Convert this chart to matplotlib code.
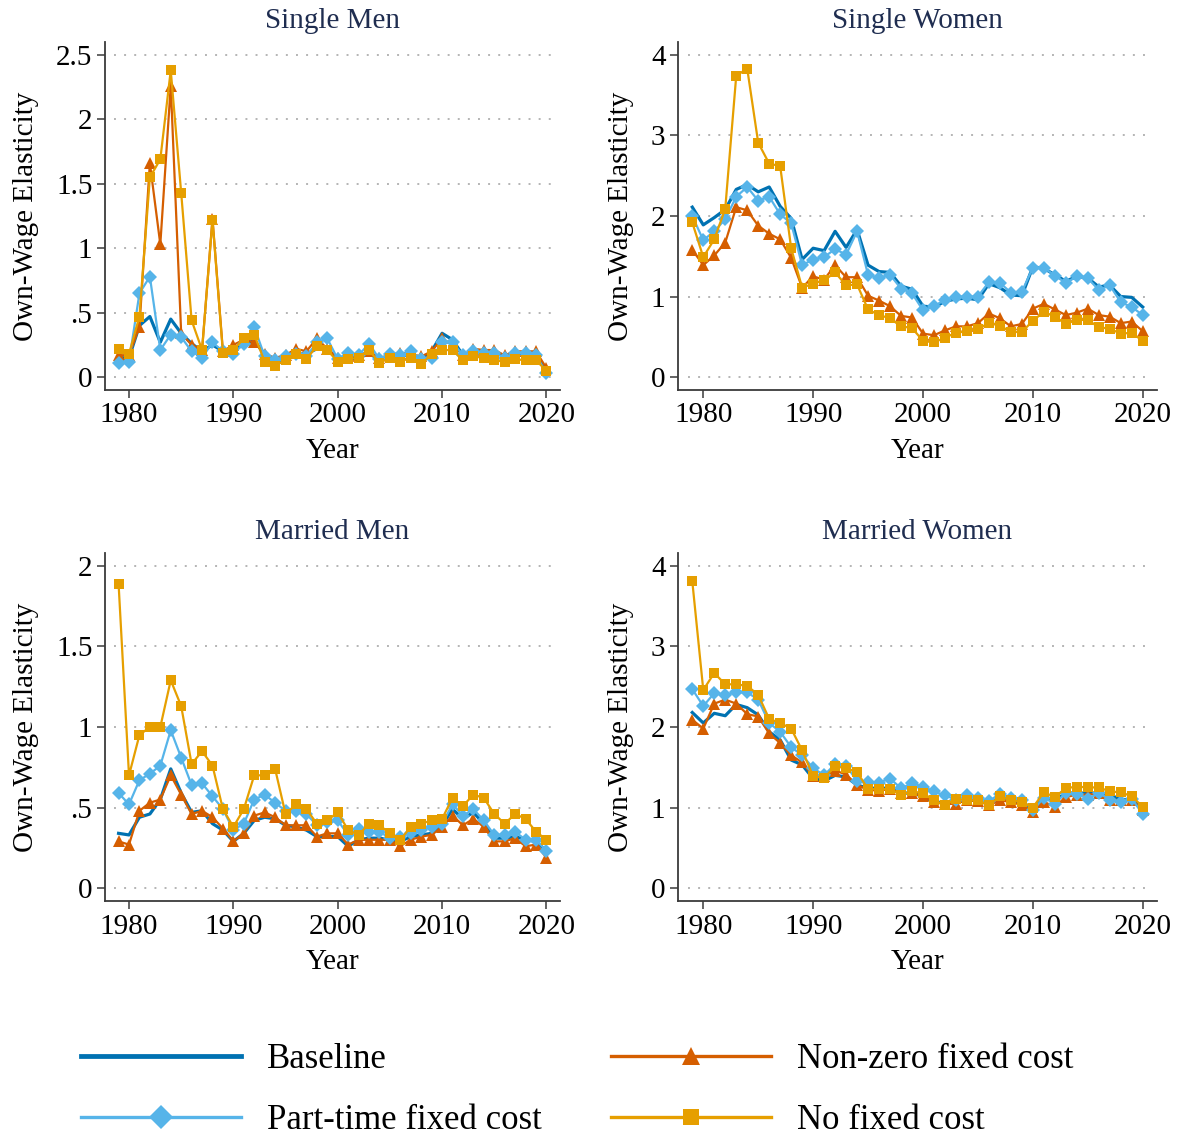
import matplotlib
matplotlib.use('Agg')
import matplotlib.pyplot as plt
from matplotlib.ticker import FuncFormatter

plt.rcParams['font.family'] = ['Liberation Serif', 'DejaVu Serif']

years: list[int] = list(range(1979, 2021))

seriesNames: list[str] = ['Baseline', 'Part-time fixed cost', 'Non-zero fixed cost', 'No fixed cost']

# Single men
smBaseline = [0.15, 0.15, 0.40, 0.47, 0.27, 0.45, 0.34, 0.26, 0.20, 0.25, 0.20, 0.20, 0.26, 0.28,
              0.18, 0.13, 0.13, 0.18, 0.18, 0.22, 0.22, 0.14, 0.14, 0.15, 0.18, 0.14, 0.16, 0.16,
              0.18, 0.14, 0.20, 0.34, 0.29, 0.17, 0.20, 0.20, 0.20, 0.16, 0.18, 0.18, 0.17, 0.05]
smPartTime = [0.11, 0.12, 0.65, 0.78, 0.21, 0.33, 0.31, 0.20, 0.15, 0.27, 0.20, 0.18, 0.26, 0.39,
              0.16, 0.13, 0.16, 0.18, 0.16, 0.27, 0.30, 0.14, 0.19, 0.17, 0.26, 0.14, 0.18, 0.17,
              0.20, 0.14, 0.15, 0.27, 0.27, 0.17, 0.20, 0.19, 0.19, 0.15, 0.19, 0.19, 0.17, 0.03]
smNonZero = [0.17, 0.17, 0.39, 1.66, 1.03, 2.26, 0.34, 0.25, 0.21, 1.23, 0.20, 0.25, 0.29, 0.27,
             0.18, 0.15, 0.17, 0.22, 0.20, 0.30, 0.22, 0.15, 0.16, 0.17, 0.20, 0.15, 0.17, 0.19,
             0.18, 0.16, 0.20, 0.30, 0.25, 0.17, 0.22, 0.21, 0.21, 0.17, 0.20, 0.20, 0.20, 0.07]
smNoFixed = [0.22, 0.18, 0.47, 1.55, 1.69, 2.38, 1.43, 0.44, 0.21, 1.22, 0.19, 0.21, 0.30, 0.33,
             0.12, 0.09, 0.13, 0.18, 0.14, 0.24, 0.21, 0.12, 0.14, 0.15, 0.21, 0.11, 0.15, 0.12,
             0.15, 0.10, 0.18, 0.21, 0.21, 0.13, 0.16, 0.15, 0.13, 0.12, 0.14, 0.13, 0.13, 0.05]

# Single women
swBaseline = [2.11, 1.89, 1.98, 2.08, 2.33, 2.39, 2.30, 2.36, 2.12, 1.97, 1.46, 1.60, 1.57, 1.81,
              1.61, 1.83, 1.39, 1.31, 1.30, 1.13, 1.09, 0.88, 0.87, 0.94, 0.97, 0.98, 0.96, 1.16,
              1.11, 1.02, 1.01, 1.37, 1.35, 1.27, 1.19, 1.25, 1.23, 1.12, 1.14, 1.00, 0.99, 0.87]
swPartTime = [2.00, 1.70, 1.81, 1.96, 2.24, 2.36, 2.19, 2.24, 2.02, 1.91, 1.39, 1.46, 1.49, 1.59,
              1.52, 1.81, 1.27, 1.23, 1.27, 1.10, 1.04, 0.83, 0.88, 0.96, 1.00, 1.00, 1.00, 1.18,
              1.17, 1.05, 1.06, 1.36, 1.36, 1.26, 1.17, 1.25, 1.23, 1.08, 1.14, 0.93, 0.87, 0.77]
swNonZero = [1.58, 1.39, 1.51, 1.67, 2.11, 2.07, 1.88, 1.78, 1.71, 1.48, 1.11, 1.25, 1.21, 1.39,
             1.24, 1.24, 1.01, 0.95, 0.88, 0.76, 0.74, 0.54, 0.52, 0.58, 0.63, 0.63, 0.67, 0.79,
             0.73, 0.63, 0.66, 0.85, 0.91, 0.84, 0.77, 0.80, 0.85, 0.77, 0.75, 0.67, 0.69, 0.57]
swNoFixed = [1.92, 1.49, 1.71, 2.09, 3.74, 3.83, 2.91, 2.65, 2.62, 1.60, 1.11, 1.16, 1.20, 1.30,
             1.14, 1.15, 0.84, 0.77, 0.73, 0.63, 0.61, 0.45, 0.43, 0.49, 0.55, 0.57, 0.60, 0.67,
             0.64, 0.56, 0.56, 0.70, 0.81, 0.75, 0.66, 0.71, 0.71, 0.62, 0.60, 0.54, 0.55, 0.45]

# Married men
mmBaseline = [0.34, 0.33, 0.44, 0.46, 0.55, 0.74, 0.59, 0.47, 0.48, 0.40, 0.36, 0.29, 0.34, 0.42,
              0.44, 0.43, 0.39, 0.38, 0.36, 0.32, 0.32, 0.32, 0.26, 0.30, 0.31, 0.31, 0.30, 0.29,
              0.32, 0.33, 0.34, 0.39, 0.49, 0.43, 0.47, 0.40, 0.31, 0.31, 0.32, 0.30, 0.29, 0.23]
mmPartTime = [0.59, 0.52, 0.67, 0.71, 0.76, 0.98, 0.81, 0.64, 0.65, 0.57, 0.49, 0.36, 0.40, 0.55,
              0.58, 0.53, 0.48, 0.48, 0.46, 0.39, 0.41, 0.42, 0.33, 0.37, 0.35, 0.35, 0.31, 0.32,
              0.34, 0.36, 0.38, 0.40, 0.52, 0.45, 0.49, 0.42, 0.33, 0.33, 0.35, 0.30, 0.30, 0.23]
mmNonZero = [0.29, 0.27, 0.48, 0.53, 0.55, 0.70, 0.58, 0.46, 0.48, 0.44, 0.37, 0.29, 0.34, 0.45,
             0.47, 0.44, 0.39, 0.39, 0.39, 0.32, 0.34, 0.34, 0.27, 0.30, 0.30, 0.30, 0.30, 0.26,
             0.30, 0.32, 0.33, 0.38, 0.45, 0.39, 0.43, 0.38, 0.29, 0.29, 0.31, 0.26, 0.27, 0.19]
mmNoFixed = [1.89, 0.70, 0.95, 1.00, 1.00, 1.29, 1.13, 0.77, 0.85, 0.76, 0.49, 0.38, 0.49, 0.70,
             0.70, 0.74, 0.46, 0.52, 0.49, 0.40, 0.42, 0.47, 0.36, 0.33, 0.40, 0.39, 0.34, 0.30,
             0.38, 0.40, 0.42, 0.43, 0.56, 0.51, 0.58, 0.56, 0.46, 0.40, 0.46, 0.43, 0.35, 0.30]

# Married women
mwBaseline = [2.18, 2.05, 2.17, 2.14, 2.28, 2.24, 2.15, 1.94, 1.84, 1.59, 1.53, 1.36, 1.33, 1.40,
              1.38, 1.28, 1.24, 1.24, 1.24, 1.18, 1.18, 1.14, 1.07, 1.06, 1.07, 1.09, 1.09, 1.06,
              1.12, 1.09, 1.05, 0.99, 1.11, 1.10, 1.17, 1.19, 1.17, 1.19, 1.16, 1.10, 1.10, 0.97]
mwPartTime = [2.47, 2.26, 2.42, 2.40, 2.43, 2.43, 2.34, 2.05, 1.94, 1.75, 1.65, 1.49, 1.40, 1.54,
              1.52, 1.33, 1.32, 1.31, 1.36, 1.24, 1.30, 1.26, 1.20, 1.15, 1.10, 1.15, 1.12, 1.08,
              1.17, 1.12, 1.10, 0.97, 1.12, 1.05, 1.18, 1.17, 1.11, 1.18, 1.10, 1.07, 1.11, 0.92]
mwNonZero = [2.09, 1.98, 2.29, 2.34, 2.29, 2.16, 2.13, 1.92, 1.80, 1.65, 1.56, 1.39, 1.39, 1.46,
             1.41, 1.28, 1.22, 1.21, 1.23, 1.18, 1.18, 1.14, 1.07, 1.04, 1.05, 1.09, 1.08, 1.03,
             1.09, 1.07, 1.03, 0.95, 1.07, 1.01, 1.13, 1.16, 1.16, 1.18, 1.10, 1.09, 1.09, 0.97]
mwNoFixed = [3.81, 2.46, 2.67, 2.53, 2.53, 2.51, 2.40, 2.10, 2.05, 1.98, 1.71, 1.39, 1.37, 1.51,
             1.49, 1.44, 1.23, 1.23, 1.23, 1.16, 1.20, 1.18, 1.09, 1.03, 1.11, 1.09, 1.09, 1.03,
             1.14, 1.09, 1.07, 1.00, 1.19, 1.13, 1.24, 1.26, 1.25, 1.25, 1.20, 1.19, 1.14, 1.01]

panelTitles: list[str] = ['Single Men', 'Single Women', 'Married Men', 'Married Women']
singleMenTicks = [0, 0.5, 1, 1.5, 2, 2.5]
marriedMenTicks = [0, 0.5, 1, 1.5, 2]
womenTicks = [0, 1, 2, 3, 4]

WIDTH: int = 1181
HEIGHT: int = 1137
TITLE_COLOR: str = '#1f2d50'
AXIS_COLOR: str = '#3a3a3a'

# colour, marker, marker size, line width
styles: dict = {
    'Baseline': ('#0072B2', None, 0, 2.3),
    'Part-time fixed cost': ('#56B4E9', 'D', 7.5, 1.6),
    'Non-zero fixed cost': ('#D55E00', '^', 8.5, 1.6),
    'No fixed cost': ('#E69F00', 's', 7.5, 1.6),
}
drawOrder: list[str] = ['Baseline', 'Non-zero fixed cost', 'Part-time fixed cost', 'No fixed cost']


def pixelBox(left: float, top: float, right: float, bottom: float) -> list[float]:
    return [left / WIDTH, 1 - bottom / HEIGHT, (right - left) / WIDTH, (bottom - top) / HEIGHT]


def stataNumber(value: float, _pos: int) -> str:
    text: str = f'{value:g}'
    if text.startswith('0.'):
        text = text[1:]
    return text


def drawPanel(ax, title: str, series: dict, ticks: list[float], ylim: tuple) -> dict:
    handles: dict = {}
    for name in drawOrder:
        color, marker, size, width = styles[name]
        line, = ax.plot(years, series[name], color=color, marker=marker, markersize=size,
                        linewidth=width, markeredgewidth=0, label=name, clip_on=False)
        handles[name] = line

    ax.set_xlim(1977.7, 2021.3)
    ax.set_ylim(*ylim)
    ax.set_xticks([1980, 1990, 2000, 2010, 2020])
    ax.set_yticks(ticks)
    ax.yaxis.set_major_formatter(FuncFormatter(stataNumber))

    for tick in ticks:
        ax.axhline(tick, color='#b4b4b4', linewidth=1.4, linestyle=(0, (1, 4.2)), zorder=0,
                   xmin=0.02, xmax=0.985)

    for side in ['top', 'right']:
        ax.spines[side].set_visible(False)
    for side in ['left', 'bottom']:
        ax.spines[side].set_color(AXIS_COLOR)
        ax.spines[side].set_linewidth(1.3)

    ax.tick_params(axis='both', length=6, width=1.1, color=AXIS_COLOR, labelsize=21, pad=3)
    ax.set_title(title, fontsize=21, color=TITLE_COLOR, pad=10)
    ax.set_xlabel('Year', fontsize=21, labelpad=7)
    ax.set_ylabel('Own-Wage Elasticity', fontsize=21, labelpad=12)
    return handles


def main() -> None:
    fig = plt.figure(figsize=(WIDTH / 100, HEIGHT / 100), dpi=100)

    panels = [
        (pixelBox(105, 42, 560, 390), {'Baseline': smBaseline, 'Part-time fixed cost': smPartTime,
                                       'Non-zero fixed cost': smNonZero, 'No fixed cost': smNoFixed},
         singleMenTicks, (-0.1, 2.6)),
        (pixelBox(678, 42, 1157, 390), {'Baseline': swBaseline, 'Part-time fixed cost': swPartTime,
                                        'Non-zero fixed cost': swNonZero, 'No fixed cost': swNoFixed},
         womenTicks, (-0.16, 4.16)),
        (pixelBox(105, 553, 560, 901), {'Baseline': mmBaseline, 'Part-time fixed cost': mmPartTime,
                                        'Non-zero fixed cost': mmNonZero, 'No fixed cost': mmNoFixed},
         marriedMenTicks, (-0.08, 2.08)),
        (pixelBox(678, 553, 1157, 901), {'Baseline': mwBaseline, 'Part-time fixed cost': mwPartTime,
                                         'Non-zero fixed cost': mwNonZero, 'No fixed cost': mwNoFixed},
         womenTicks, (-0.16, 4.16)),
    ]

    handles: dict = {}
    for (box, series, ticks, ylim), title in zip(panels, panelTitles):
        ax = fig.add_axes(box)
        handles = drawPanel(ax, title, series, ticks, ylim)

    legend = fig.legend([handles[name] for name in seriesNames], seriesNames,
                        loc='center left', bbox_to_anchor=(81 / WIDTH, 1 - 1090 / HEIGHT),
                        ncol=2, frameon=False, fontsize=25, handlelength=4.6,
                        handletextpad=0.75, columnspacing=2.0, labelspacing=0.8,
                        markerscale=1.6, borderaxespad=0, borderpad=0)
    for line in legend.get_lines():
        line.set_linewidth(line.get_linewidth() * 1.5)

    fig.savefig('out.png', dpi=100)


if __name__ == '__main__':
    main()
